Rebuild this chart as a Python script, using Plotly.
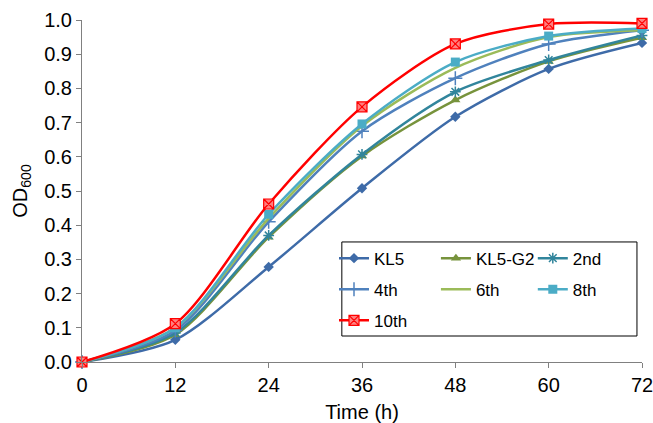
import plotly.graph_objects as go

time_h = [0, 12, 24, 36, 48, 60, 72]
series_names = ["KL5", "KL5-G2", "2nd", "4th", "6th", "8th", "10th"]
kl5 = [0.0, 0.065, 0.278, 0.508, 0.717, 0.857, 0.933]
kl5_g2 = [0.0, 0.080, 0.365, 0.602, 0.766, 0.879, 0.948]
s2nd = [0.0, 0.085, 0.370, 0.607, 0.790, 0.883, 0.955]
s4th = [0.0, 0.092, 0.410, 0.675, 0.830, 0.930, 0.970]
s6th = [0.0, 0.100, 0.420, 0.690, 0.860, 0.950, 0.970]
s8th = [0.0, 0.100, 0.432, 0.696, 0.877, 0.953, 0.975]
s10th = [0.0, 0.112, 0.462, 0.746, 0.930, 0.988, 0.990]
x_ticks = [0, 12, 24, 36, 48, 60, 72]
y_ticks = [0.0, 0.1, 0.2, 0.3, 0.4, 0.5, 0.6, 0.7, 0.8, 0.9, 1.0]

values = [kl5, kl5_g2, s2nd, s4th, s6th, s8th, s10th]
colors = ["#3E6BA8", "#77933C", "#31859C", "#4F81BD", "#9BBB59", "#4BACC6", "#FF0000"]
markers = [
    dict(symbol="diamond", size=8),
    dict(symbol="triangle-up", size=9),
    dict(symbol="asterisk-open", size=9),
    dict(symbol="cross-thin-open", size=10),
    None,
    dict(symbol="square", size=9),
    dict(symbol="square-x", size=10),
]
# legend column layout as in the reference (3 columns)
legend_ids = ["legend", "legend2", "legend3", "legend", "legend2", "legend3", "legend"]

fig = go.Figure()
for i, (name, vals, col, mk, lg) in enumerate(zip(series_names, values, colors, markers, legend_ids)):
    line = dict(color=col, width=2.5, shape="spline", smoothing=0.8)
    if mk is None:
        fig.add_trace(go.Scatter(x=time_h, y=vals, name=name, mode="lines", line=line,
                                 legend=lg, legendgroup=f"g{i}"))
    else:
        m = dict(mk)
        m["color"] = col
        if mk["symbol"] in ("asterisk-open", "cross-thin-open"):
            m["line"] = dict(color=col, width=1.5)
        elif mk["symbol"] == "square-x":
            m["color"] = "#FF7F7F"
            m["line"] = dict(color="#FF0000", width=1.2)
        else:
            m["line"] = dict(color=col, width=0)
        fig.add_trace(go.Scatter(x=time_h, y=vals, name=name, mode="lines+markers", line=line,
                                 marker=m, legend=lg, legendgroup=f"g{i}"))

FONT = "Liberation Sans, Arial, sans-serif"
leg_font = dict(family=FONT, size=17, color="#000000")
leg_common = dict(xanchor="left", yanchor="top", orientation="v", y=0.355,
                  bgcolor="rgba(0,0,0,0)", borderwidth=0, font=leg_font,
                  itemwidth=30, tracegroupgap=6)
fig.update_layout(
    width=653, height=423,
    margin=dict(l=82, r=11, t=20, b=61, autoexpand=False),
    paper_bgcolor="white", plot_bgcolor="white",
    font=dict(family=FONT, size=20, color="#000000"),
    showlegend=True,
    legend=dict(x=0.450, **leg_common),
    legend2=dict(x=0.632, **leg_common),
    legend3=dict(x=0.805, **leg_common),
    shapes=[dict(type="rect", xref="paper", yref="paper",
                 x0=0.464, x1=0.991, y0=0.076, y1=0.351,
                 line=dict(color="#000000", width=1), fillcolor="white", layer="above")],
    xaxis=dict(
        range=[0, 72], tickvals=x_ticks, ticktext=[str(v) for v in x_ticks],
        showline=True, linecolor="#808080", linewidth=1,
        ticks="outside", ticklen=5, tickcolor="#808080", automargin=False,
        ticklabeloverflow="allow",
        showgrid=False, zeroline=False, tickfont=dict(size=20),
        title=dict(text="Time (h)", font=dict(size=20), standoff=9),
    ),
    yaxis=dict(
        range=[0, 1.0], tickvals=y_ticks, ticktext=[f"{v:.1f}" for v in y_ticks],
        showline=True, linecolor="#808080", linewidth=1,
        ticks="outside", ticklen=5, tickcolor="#808080", automargin=False,
        ticklabeloverflow="allow",
        showgrid=False, zeroline=False, tickfont=dict(size=20),
        title=dict(text="OD<sub>600</sub>", font=dict(size=20), standoff=11),
    ),
)
fig.update_traces(cliponaxis=False)
fig.write_html("out.html", config={"displayModeBar": False},
               post_script="document.body.style.margin='0';")
